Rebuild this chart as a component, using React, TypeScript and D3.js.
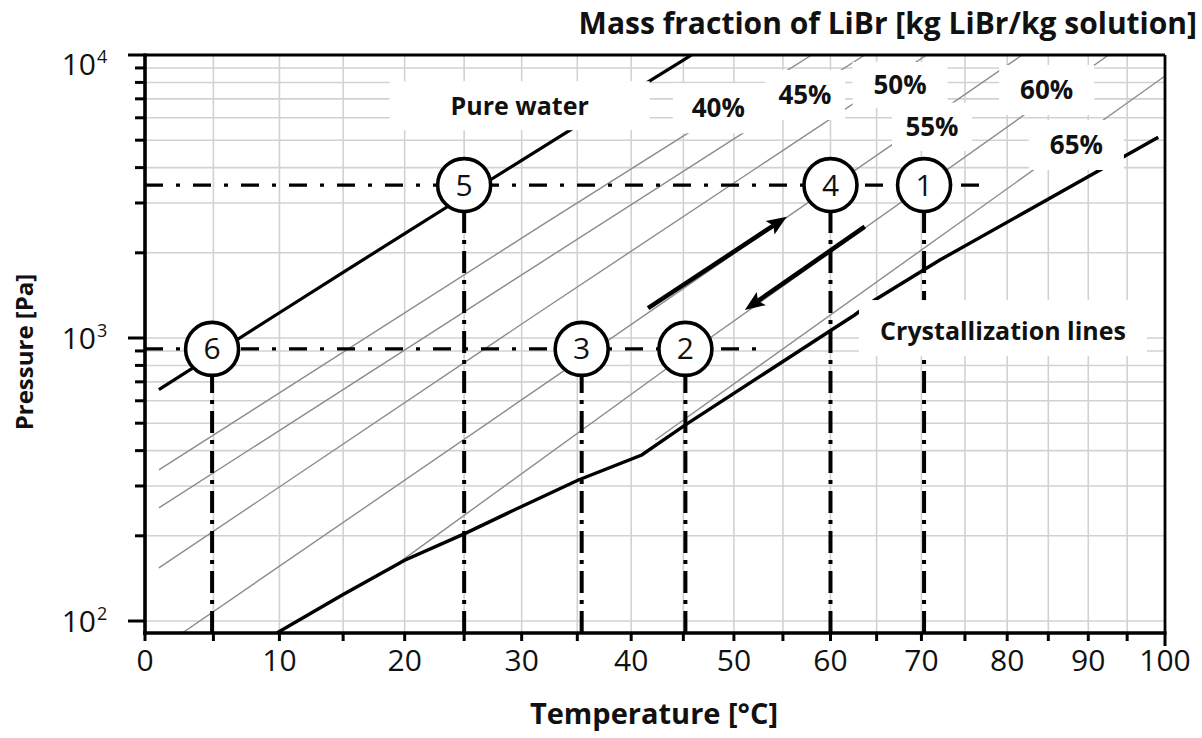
import React from 'react';
import * as d3 from 'd3';

// ---------- data ----------
const X_TICKS = [0, 10, 20, 30, 40, 50, 60, 70, 80, 90, 100];
const X_GRID = [5, 10, 15, 20, 25, 30, 35, 40, 45, 50, 55, 60, 65, 70, 75, 80, 85, 90, 95];
const Y_MAJOR = [100, 1000, 10000];
const Y_MAJOR_EXP = ['2', '3', '4'];
const Y_GRID = [100, 200, 300, 400, 500, 600, 700, 800, 900, 1000, 2000, 3000, 4000, 5000, 6000, 7000, 8000, 9000];

// pure water saturation line (T in °C, P in Pa)
const waterT = [1, 5, 10, 15, 20, 25, 30, 35, 40, 45, 45.8];
const waterP = [657, 872, 1228, 1705, 2339, 3169, 4246, 5628, 7384, 9593, 10000];

// LiBr concentration lines
const concNames = ['40%', '45%', '50%', '55%', '60%', '65%'];
const c40T = [1, 31.6, 58.0];
const c40P = [342, 2474, 10000];
const c45T = [1, 31.6, 63.7];
const c45P = [251, 1836, 10000];
const c50T = [1, 31.6, 70.6];
const c50P = [154, 1236, 10000];
const c55T = [2.7, 35.5, 81.8];
const c55P = [90.7, 851, 10000];
const c60T = [18.65, 43.2, 92.6];
const c60P = [151, 771, 10000];
const c65T = [42.3, 100];
const c65P = [436, 8430];

// crystallization line
const crystT = [9.8, 15.0, 20.0, 25.1, 30.0, 35.1, 41.0, 45.2, 60.1, 62.6, 64.8, 72.1, 99.1];
const crystP = [90.7, 124, 164, 204, 254, 315, 386, 493, 1067, 1206, 1362, 1886, 5119];

// cycle state points
const stateNames = ['1', '2', '3', '4', '5', '6'];
const stateT = [70.3, 45.2, 35.4, 60.0, 25.0, 4.9];
const stateP = [3470, 915, 915, 3470, 3470, 915];

// dash-dot pressure levels: [pressure, end temperature]
const levelP = [3470, 915];
const levelEndT = [78, 52.6];

// process arrows
const arrowUpT = [41.6, 55.4];
const arrowUpP = [1274, 2683];
const arrowDownT = [63.7, 51.1];
const arrowDownP = [2474, 1256];

// label anchors (data coordinates)
const labelText = ['Pure water', '40%', '45%', '50%', '55%', '60%', '65%', 'Crystallization lines'];
const labelT = [29.83, 48.44, 57.3, 67.6, 71.2, 84.8, 88.5, 79.5];
const labelP = [6566, 6481, 7222, 7834, 5580, 7522, 4808, 1058];

// ---------- layout / style ----------
const W = 1202;
const H = 738;
const PL = 145, PR = 1165, PT = 55, PB = 633;
const FONT = "'Open Sans', 'Noto Sans', sans-serif";
// white boxes behind labels: [dx, dy, w, h] relative to label center
const labelBox = [
  [0, -1, 260, 49],
  [3, 0, 97, 50],
  [0, 0, 80, 50],
  [0, 0, 95, 46],
  [0, 0, 80, 48],
  [0, 0, 95, 50],
  [0, 0, 95, 50],
  [0, -3, 288, 56],
];
const labelSize = [25, 26, 26, 26, 26, 26, 26, 25];

const inv = (T: number) => -1 / (T + 273.15);
const xs = d3.scaleLinear().domain([inv(0), inv(100)]).range([PL, PR]);
const X = (T: number) => xs(inv(T));
const Y = d3.scaleLog().domain([90.7, 10000]).range([PB, PT]);

const zip = (T: number[], P: number[]) => T.map((t, i) => [t, P[i]] as [number, number]);
const line = d3
  .line<[number, number]>()
  .x((d) => X(d[0]))
  .y((d) => Y(d[1]));

const concLines = [
  zip(c40T, c40P),
  zip(c45T, c45P),
  zip(c50T, c50P),
  zip(c55T, c55P),
  zip(c60T, c60P),
  zip(c65T, c65P),
];

function Arrow({ T, P }: { T: number[]; P: number[] }) {
  const x0 = X(T[0]), y0 = Y(P[0]), x1 = X(T[1]), y1 = Y(P[1]);
  const dx = x1 - x0, dy = y1 - y0;
  const len = Math.hypot(dx, dy);
  const ux = dx / len, uy = dy / len;
  const hl = 20, hw = 8;
  const bx = x1 - ux * hl, by = y1 - uy * hl;
  const pts = [
    [x1, y1],
    [bx - uy * hw, by + ux * hw],
    [bx + ux * 4, by + uy * 4],
    [bx + uy * hw, by - ux * hw],
  ];
  return (
    <g>
      <line x1={x0} y1={y0} x2={bx + ux * 4} y2={by + uy * 4} stroke="#000" strokeWidth={4.5} />
      <polygon points={pts.map((p) => p.join(',')).join(' ')} fill="#000" />
    </g>
  );
}

export default function App() {
  const minorY: number[] = [];
  Y_GRID.forEach((v) => {
    if (!Y_MAJOR.includes(v)) minorY.push(v);
  });
  const tick5 = [0, ...X_GRID, 100];

  return (
    <div style={{ position: 'fixed', left: 0, top: 0, width: W, height: H, background: '#fff' }}>
      <svg width={W} height={H} style={{ display: 'block' }} fontFamily={FONT}>
        <defs>
          <clipPath id="plot">
            <rect x={PL} y={PT} width={PR - PL} height={PB - PT} />
          </clipPath>
        </defs>
        <rect x={0} y={0} width={W} height={H} fill="#fff" />

        {/* grid */}
        <g stroke="#d2d2d2" strokeWidth={1.6}>
          {X_GRID.map((t) => (
            <line key={'gx' + t} x1={X(t)} x2={X(t)} y1={PT} y2={PB} />
          ))}
          {Y_GRID.map((p) => (
            <line key={'gy' + p} x1={PL} x2={PR} y1={Y(p)} y2={Y(p)} />
          ))}
        </g>

        <g clipPath="url(#plot)" fill="none">
          {concLines.map((d, i) => (
            <path key={concNames[i]} d={line(d) || ''} stroke="#8c8c8c" strokeWidth={1.4} />
          ))}
          <path d={line(zip(waterT, waterP)) || ''} stroke="#000" strokeWidth={3.2} />
          <path d={line(zip(crystT, crystP)) || ''} stroke="#000" strokeWidth={3.4} />

          {levelP.map((p, i) => (
            <line
              key={'lv' + i}
              x1={PL}
              x2={X(levelEndT[i])}
              y1={Y(p)}
              y2={Y(p)}
              stroke="#000"
              strokeWidth={3.3}
              strokeDasharray="18 13 4 13"
            />
          ))}
          {stateT.map((t, i) => (
            <line
              key={'vt' + i}
              x1={X(t)}
              x2={X(t)}
              y1={PB}
              y2={Y(stateP[i])}
              stroke="#000"
              strokeWidth={4}
              strokeDasharray="22 7 4 7"
            />
          ))}
        </g>

        {labelText.map((s, i) => {
          const cx = X(labelT[i]) + labelBox[i][0];
          const cy = Y(labelP[i]) + labelBox[i][1];
          const w = labelBox[i][2], h = labelBox[i][3];
          return <rect key={'lb' + i} x={cx - w / 2} y={cy - h / 2} width={w} height={h} fill="#fff" />;
        })}

        <Arrow T={arrowUpT} P={arrowUpP} />
        <Arrow T={arrowDownT} P={arrowDownP} />

        {stateT.map((t, i) => (
          <g key={'st' + i}>
            <circle cx={X(t)} cy={Y(stateP[i])} r={26.5} fill="#fff" stroke="#000" strokeWidth={3.6} />
            <text x={X(t)} y={Y(stateP[i]) + 10.5} textAnchor="middle" fontSize={30} fill="#111">
              {stateNames[i]}
            </text>
          </g>
        ))}

        {labelText.map((s, i) => (
          <text
            key={'lt' + i}
            x={X(labelT[i])}
            y={Y(labelP[i]) + labelSize[i] * 0.35}
            textAnchor="middle"
            fontWeight={700}
            fontSize={labelSize[i]}
            fill="#111"
          >
            {s}
          </text>
        ))}

        {/* frame */}
        <line x1={PL} x2={PR} y1={PT} y2={PT} stroke="#000" strokeWidth={2.8} />
        <line x1={PR} x2={PR} y1={PT} y2={PB} stroke="#000" strokeWidth={2.8} />
        <line x1={PL} x2={PL} y1={PT - 1.5} y2={PB + 2} stroke="#000" strokeWidth={3.6} />
        <line x1={PL - 2} x2={PR + 1.5} y1={PB} y2={PB} stroke="#000" strokeWidth={3.6} />

        {tick5.map((t) => (
          <line key={'xt' + t} x1={X(t)} x2={X(t)} y1={PB} y2={PB + (t === 100 ? 13 : 8)} stroke="#000" strokeWidth={3} />
        ))}
        {X_TICKS.map((t) => (
          <text key={'xl' + t} x={X(t)} y={PB + 38} textAnchor="middle" fontSize={30} fill="#111">
            {t}
          </text>
        ))}

        {minorY.map((p) => (
          <line key={'ym' + p} x1={PL - 10} x2={PL} y1={Y(p)} y2={Y(p)} stroke="#000" strokeWidth={3} />
        ))}
        {Y_MAJOR.map((p, i) => (
          <g key={'yM' + p}>
            <line x1={PL - 17} x2={PL} y1={Y(p)} y2={Y(p)} stroke="#000" strokeWidth={3} />
            <text x={96} y={Math.max(Y(p) + 11, PT + 20)} textAnchor="end" fontSize={30} fill="#111">
              10
            </text>
            <text x={97} y={Math.max(Y(p) + 11, PT + 20) - 12} textAnchor="start" fontSize={18} fill="#111">
              {Y_MAJOR_EXP[i]}
            </text>
          </g>
        ))}

        <text x={654} y={724} textAnchor="middle" fontWeight={700} fontSize={29} fill="#111">
          Temperature [°C]
        </text>
        <text
          transform={`translate(33, 352) rotate(-90)`}
          textAnchor="middle"
          fontWeight={700}
          fontSize={24}
          fill="#111"
        >
          Pressure [Pa]
        </text>
        <text x={1197} y={34} textAnchor="end" fontWeight={700} fontSize={30} fill="#111">
          Mass fraction of LiBr [kg LiBr/kg solution]
        </text>
      </svg>
    </div>
  );
}
